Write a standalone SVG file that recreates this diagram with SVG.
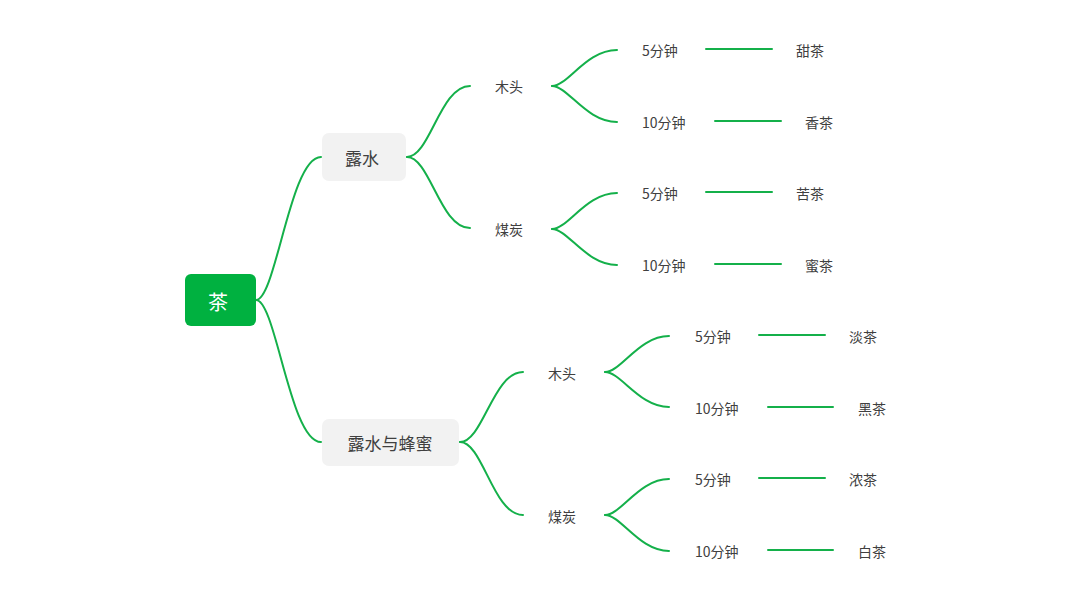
<svg xmlns="http://www.w3.org/2000/svg" width="1080" height="606" viewBox="0 0 1080 606">
<style>
.c{fill:none;stroke:#14b04a;stroke-width:2;stroke-linecap:round}
.t{font-family:"Noto Sans CJK SC","Liberation Sans",sans-serif;fill:#404040;dominant-baseline:central}
.l{font-size:14px}
.m{font-size:17px;text-anchor:middle}
.sub{fill:#f2f2f2}
</style>
<rect width="1080" height="606" fill="#ffffff"/>
<g id="connectors">
<path class="c" d="M256,300 C276,300 290,157 321,157"/>
<path class="c" d="M256,300 C276,300 290,442 321,442"/>
<path class="c" d="M407,157 C430,157 440,86 470,86"/>
<path class="c" d="M407,157 C430,157 440,228 470,228"/>
<path class="c" d="M460,442 C483,442 493,372 523,372"/>
<path class="c" d="M460,442 C483,442 493,515 523,515"/>
<path class="c" d="M552,86 C568,86 586,50 617,50"/>
<path class="c" d="M552,86 C568,86 586,122 617,122"/>
<path class="c" d="M552,229 C568,229 586,193 617,193"/>
<path class="c" d="M552,229 C568,229 586,265 617,265"/>
<path class="c" d="M605,372 C621,372 639,336 669,336"/>
<path class="c" d="M605,372 C621,372 639,407 669,407"/>
<path class="c" d="M605,515 C621,515 639,479 669,479"/>
<path class="c" d="M605,515 C621,515 639,551 669,551"/>
<path class="c" d="M706,49 H772"/>
<path class="c" d="M715,121 H781"/>
<path class="c" d="M706,192 H772"/>
<path class="c" d="M715,264 H781"/>
<path class="c" d="M759,335 H825"/>
<path class="c" d="M768,407 H833"/>
<path class="c" d="M759,478 H825"/>
<path class="c" d="M768,550 H833"/>
</g>
<g id="root"><rect x="185" y="274" width="71" height="52" rx="6" fill="#00b140"/><text class="t" x="218" y="301" font-size="20" text-anchor="middle" style="fill:#ffffff">茶</text></g>
<g id="n1"><rect class="sub" x="322" y="133" width="84" height="48" rx="7"/><text class="t m" x="362" y="157">露水</text></g>
<g id="n2"><rect class="sub" x="322" y="419" width="137" height="47" rx="7"/><text class="t m" x="390" y="442">露水与蜂蜜</text></g>
<g id="n1a"><text class="t l" x="495" y="86">木头</text></g>
<g id="n1b"><text class="t l" x="495" y="229">煤炭</text></g>
<g id="n2a"><text class="t l" x="548" y="373">木头</text></g>
<g id="n2b"><text class="t l" x="548" y="516">煤炭</text></g>
<g id="t1"><text class="t l" x="642" y="50">5分钟</text></g>
<g id="t2"><text class="t l" x="642" y="122">10分钟</text></g>
<g id="t3"><text class="t l" x="642" y="193">5分钟</text></g>
<g id="t4"><text class="t l" x="642" y="265">10分钟</text></g>
<g id="t5"><text class="t l" x="695" y="336">5分钟</text></g>
<g id="t6"><text class="t l" x="695" y="408">10分钟</text></g>
<g id="t7"><text class="t l" x="695" y="479">5分钟</text></g>
<g id="t8"><text class="t l" x="695" y="551">10分钟</text></g>
<g id="r1"><text class="t l" x="796" y="50">甜茶</text></g>
<g id="r2"><text class="t l" x="805" y="122">香茶</text></g>
<g id="r3"><text class="t l" x="796" y="193">苦茶</text></g>
<g id="r4"><text class="t l" x="805" y="265">蜜茶</text></g>
<g id="r5"><text class="t l" x="849" y="336">淡茶</text></g>
<g id="r6"><text class="t l" x="858" y="408">黑茶</text></g>
<g id="r7"><text class="t l" x="849" y="479">浓茶</text></g>
<g id="r8"><text class="t l" x="858" y="551">白茶</text></g>
</svg>
